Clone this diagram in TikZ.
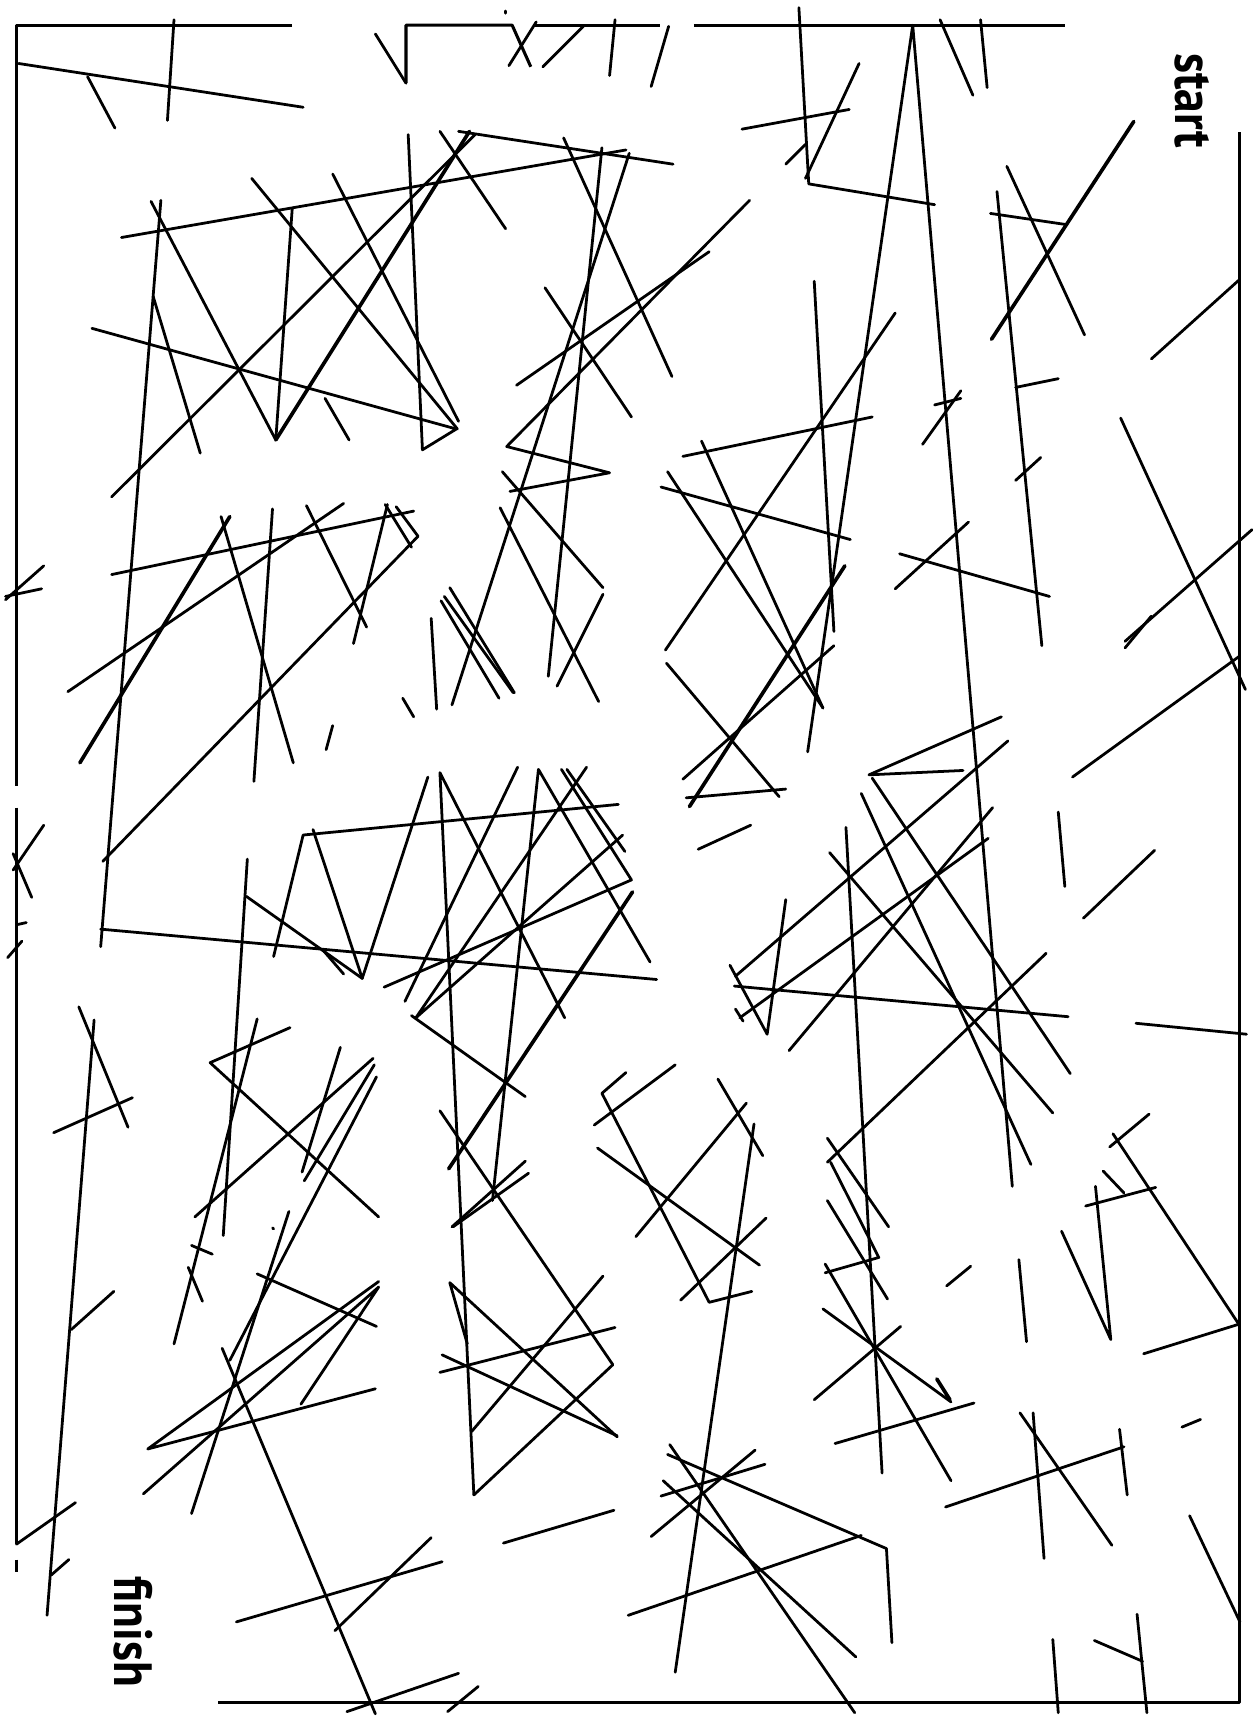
\documentclass[tikz,border=0pt]{standalone}
\usepackage{fontspec}
\setsansfont[FakeStretch=0.88]{PT Sans}
\usetikzlibrary{calc}
\usetikzlibrary{positioning}

\tikzset{
    wall/.style={draw=black, line width=0.72pt, line cap=round, line join=round},
    heavywall/.style={draw=black, line width=0.95pt, line cap=round, line join=round},
    outerwall/.style={draw=black, line width=0.8pt, line join=round},
    mazelabel/.style={font=\sffamily\bfseries\fontsize{14}{16}\selectfont, rotate=-90, inner sep=0pt},
}

\begin{document}
\begin{tikzpicture}[x=0.01cm, y=-0.01cm]
    \useasboundingbox (0, 0) rectangle (1150, 1568);

    \node [mazelabel] (start) at (1089, 92) {start};
    \node [mazelabel] (finish) at (122, 1491) {finish};

    % outer walls
    \draw [outerwall] (267, 23) -- (15, 23) -- (15, 718);
    \draw [outerwall] (15, 738) -- (15, 1411);
    \draw [outerwall] (15, 1425) -- (15, 1436);
    \draw [outerwall] (371, 76) -- (371, 23) -- (468, 23) -- (485, 61);
    \draw [outerwall] (489, 23) -- (603, 23);
    \draw [outerwall] (634, 23) -- (973, 23);
    \draw [outerwall] (1133, 121) -- (1133, 1556) -- (199, 1556);

    % top row
    \draw [wall] (462, 10) -- (462, 12);
    \draw [wall] (159, 18) -- (153, 110);
    \draw [wall] (17, 58) -- (277, 98);
    \draw [wall] (80, 70) -- (105, 117);
    \draw [wall] (343, 31) -- (371, 76);
    \draw [wall] (490, 20) -- (465, 60);
    \draw [wall] (533, 24) -- (496, 61);
    \draw [wall] (562, 18) -- (557, 69);
    \draw [wall] (611, 24) -- (595, 79);
    \draw [wall] (730, 7) -- (739, 168) -- (854, 187);
    \draw [wall] (785, 58) -- (736, 163);
    \draw [wall] (678, 118) -- (776, 100);
    \draw [wall] (718, 150) -- (736, 132);
    \draw [wall] (925, 1084) -- (834, 23) -- (738, 687);
    \draw [wall] (859, 18) -- (889, 87);
    \draw [wall] (896, 18) -- (902, 80);

    % right side, upper part
    \draw [heavywall] (1036, 111) -- (906, 310);
    \draw [wall] (920, 152) -- (991, 306);
    \draw [wall] (905, 195) -- (973, 205);
    \draw [wall] (911, 175) -- (952, 590);
    \draw [wall] (928, 354) -- (967, 346);
    \draw [wall] (1132, 256) -- (1052, 328);
    \draw [wall] (1024, 382) -- (1138, 630);
    \draw [wall] (1144, 484) -- (1028, 586);
    \draw [wall] (1052, 563) -- (1028, 592);
    \draw [wall] (1132, 600) -- (980, 710);
    \draw [wall] (878, 357) -- (843, 406);
    \draw [wall] (854, 370) -- (878, 364);
    \draw [wall] (951, 418) -- (928, 439);
    \draw [wall] (885, 477) -- (818, 538);
    \draw [wall] (822, 506) -- (959, 545);

    % upper left block
    \draw [wall] (419, 120) -- (615, 150);
    \draw [wall] (111, 217) -- (572, 137);
    \draw [wall] (147, 183) -- (92, 865);
    \draw [wall] (92, 849) -- (600, 895);
    \draw [wall] (138, 184) -- (252, 402) -- (267, 191);
    \draw [heavywall] (252, 402) -- (429, 120);
    \draw [wall] (140, 271) -- (183, 414);
    \draw [wall] (102, 454) -- (434, 123);
    \draw [wall] (230, 163) -- (418, 392);
    \draw [wall] (304, 159) -- (419, 385);
    \draw [wall] (84, 300) -- (417, 392) -- (386, 411) -- (373, 123);
    \draw [wall] (402, 120) -- (462, 209);
    \draw [wall] (297, 364) -- (319, 402);

    % upper middle
    \draw [wall] (550, 135) -- (501, 618);
    \draw [wall] (515, 126) -- (614, 344);
    \draw [wall] (575, 140) -- (413, 644);
    \draw [wall] (685, 183) -- (463, 408) -- (557, 432) -- (466, 449);
    \draw [wall] (648, 230) -- (472, 352);
    \draw [wall] (498, 263) -- (577, 381);
    \draw [wall] (459, 431) -- (551, 537);
    \draw [wall] (457, 464) -- (547, 641);
    \draw [wall] (551, 543) -- (509, 627);
    \draw [wall] (411, 537) -- (470, 633);
    \draw [wall] (406, 545) -- (469, 633);
    \draw [wall] (403, 549) -- (456, 638);
    \draw [wall] (394, 565) -- (399, 648);
    \draw [wall] (368, 638) -- (378, 655);
    \draw [wall] (304, 663) -- (298, 685);

    % centre right
    \draw [wall] (744, 257) -- (762, 577);
    \draw [wall] (818, 286) -- (608, 594);
    \draw [wall] (797, 381) -- (624, 417);
    \draw [wall] (641, 403) -- (752, 647);
    \draw [wall] (610, 431) -- (752, 647);
    \draw [wall] (604, 445) -- (777, 493);
    \draw [heavywall] (772, 517) -- (630, 737);
    \draw [wall] (762, 590) -- (624, 712);
    \draw [wall] (609, 606) -- (712, 728);
    \draw [wall] (627, 729) -- (718, 721);
    \draw [wall] (686, 754) -- (638, 776);

    % left, middle height
    \draw [wall] (102, 525) -- (378, 467);
    \draw [wall] (314, 460) -- (62, 632);
    \draw [heavywall] (210, 472) -- (73, 697);
    \draw [wall] (202, 472) -- (268, 697);
    \draw [wall] (249, 465) -- (232, 714);
    \draw [wall] (280, 462) -- (335, 573);
    \draw [wall] (354, 461) -- (323, 588);
    \draw [wall] (352, 461) -- (376, 500);
    \draw [wall] (362, 463) -- (382, 490) -- (94, 787);
    \draw [wall] (5, 548) -- (40, 517);
    \draw [wall] (5, 545) -- (38, 538);
    \draw [wall] (40, 754) -- (12, 795);
    \draw [wall] (12, 780) -- (29, 820);
    \draw [wall] (15, 845) -- (24, 843);
    \draw [wall] (20, 860) -- (7, 875);

    % right, middle height
    \draw [wall] (915, 655) -- (794, 708) -- (880, 704);
    \draw [wall] (797, 711) -- (978, 981);
    \draw [wall] (921, 677) -- (672, 892);
    \draw [wall] (907, 738) -- (721, 960);
    \draw [wall] (903, 766) -- (676, 930);
    \draw [wall] (672, 922) -- (679, 933);
    \draw [wall] (667, 882) -- (701, 945) -- (718, 822);
    \draw [wall] (671, 901) -- (976, 929);
    \draw [wall] (787, 725) -- (942, 1064);
    \draw [wall] (773, 756) -- (806, 1346);
    \draw [wall] (758, 779) -- (962, 1017);
    \draw [wall] (956, 871) -- (756, 1062);
    \draw [wall] (967, 742) -- (973, 810);
    \draw [wall] (1055, 777) -- (990, 839);
    \draw [wall] (1038, 935) -- (1139, 945);

    % centre
    \draw [wall] (565, 735) -- (277, 763) -- (250, 874);
    \draw [wall] (286, 758) -- (331, 894) -- (391, 710);
    \draw [wall] (225, 819) -- (331, 894);
    \draw [wall] (295, 868) -- (314, 890);
    \draw [wall] (226, 785) -- (204, 1129);
    \draw [wall] (433, 1366) -- (402, 706) -- (516, 930);
    \draw [wall] (473, 701) -- (370, 915);
    \draw [wall] (450, 1097) -- (492, 703) -- (594, 879);
    \draw [wall] (513, 703) -- (577, 804) -- (351, 902);
    \draw [wall] (518, 703) -- (571, 778);
    \draw [wall] (536, 701) -- (380, 930) -- (569, 763);
    \draw [heavywall] (578, 815) -- (410, 1068);
    \draw [wall] (376, 928) -- (480, 1002);

    % lower left
    \draw [wall] (265, 939) -- (192, 971) -- (346, 1112);
    \draw [wall] (235, 931) -- (159, 1228);
    \draw [wall] (341, 967) -- (178, 1112);
    \draw [wall] (311, 957) -- (276, 1071);
    \draw [wall] (342, 973) -- (278, 1079);
    \draw [wall] (344, 984) -- (210, 1243);
    \draw [wall] (264, 1107) -- (175, 1383);
    \draw [wall] (249, 1122) -- (250, 1123);
    \draw [wall] (175, 1138) -- (194, 1146);
    \draw [wall] (172, 1158) -- (185, 1189);
    \draw [wall] (235, 1164) -- (344, 1212);
    \draw [wall] (343, 1269) -- (135, 1324) -- (346, 1171);
    \draw [wall] (131, 1365) -- (346, 1176) -- (275, 1283);
    \draw [wall] (203, 1232) -- (343, 1566);
    \draw [wall] (404, 1427) -- (216, 1482);
    \draw [wall] (394, 1405) -- (306, 1490);
    \draw [wall] (419, 1529) -- (317, 1564);
    \draw [wall] (437, 1541) -- (409, 1564);
    \draw [wall] (86, 932) -- (43, 1476);
    \draw [wall] (121, 1003) -- (49, 1035);
    \draw [wall] (72, 920) -- (117, 1030);
    \draw [wall] (104, 1180) -- (65, 1215);
    \draw [wall] (69, 1373) -- (15, 1411);
    \draw [wall] (63, 1425) -- (47, 1439);

    % lower middle
    \draw [wall] (402, 1015) -- (560, 1247) -- (433, 1366);
    \draw [wall] (480, 1061) -- (413, 1121);
    \draw [wall] (483, 1072) -- (414, 1121);
    \draw [wall] (427, 1228) -- (411, 1172) -- (564, 1313);
    \draw [wall] (404, 1238) -- (564, 1312);
    \draw [wall] (402, 1254) -- (562, 1213);
    \draw [wall] (431, 1308) -- (551, 1166);
    \draw [wall] (561, 1380) -- (460, 1410);
    \draw [wall] (572, 980) -- (550, 999) -- (648, 1190) -- (687, 1180);
    \draw [wall] (617, 973) -- (543, 1028);
    \draw [wall] (546, 1049) -- (694, 1156);
    \draw [wall] (700, 1113) -- (622, 1188);
    \draw [wall] (656, 986) -- (697, 1056);
    \draw [wall] (682, 1008) -- (581, 1130);
    \draw [wall] (689, 1027) -- (617, 1528);
    \draw [wall] (612, 1320) -- (781, 1565);
    \draw [wall] (610, 1329) -- (810, 1415) -- (815, 1501);
    \draw [wall] (690, 1325) -- (595, 1404);
    \draw [wall] (699, 1338) -- (604, 1367);
    \draw [wall] (787, 1403) -- (574, 1476);
    \draw [wall] (606, 1353) -- (782, 1514);

    % lower right
    \draw [wall] (756, 1040) -- (812, 1121);
    \draw [wall] (759, 1062) -- (803, 1149) -- (754, 1163);
    \draw [wall] (756, 1097) -- (811, 1187);
    \draw [wall] (754, 1155) -- (869, 1353);
    \draw [wall] (752, 1196) -- (869, 1281);
    \draw [heavywall] (856, 1260) -- (868, 1279);
    \draw [wall] (823, 1212) -- (744, 1279);
    \draw [wall] (890, 1282) -- (763, 1319);
    \draw [wall] (887, 1157) -- (865, 1175);
    \draw [wall] (931, 1151) -- (938, 1226);
    \draw [wall] (970, 1125) -- (1015, 1224) -- (1001, 1084);
    \draw [wall] (992, 1102) -- (1056, 1085);
    \draw [wall] (1008, 1070) -- (1027, 1090);
    \draw [wall] (1050, 1018) -- (1014, 1048);
    \draw [wall] (1017, 1036) -- (1132, 1210) -- (1045, 1237);
    \draw [wall] (932, 1291) -- (1016, 1412);
    \draw [wall] (944, 1291) -- (954, 1424);
    \draw [wall] (1027, 1322) -- (864, 1377);
    \draw [wall] (1023, 1306) -- (1030, 1366);
    \draw [wall] (1097, 1297) -- (1080, 1304);
    \draw [wall] (1087, 1385) -- (1133, 1482);
    \draw [wall] (1000, 1499) -- (1044, 1518);
    \draw [wall] (1039, 1475) -- (1048, 1565);
    \draw [wall] (962, 1498) -- (967, 1565);
\end{tikzpicture}
\end{document}
